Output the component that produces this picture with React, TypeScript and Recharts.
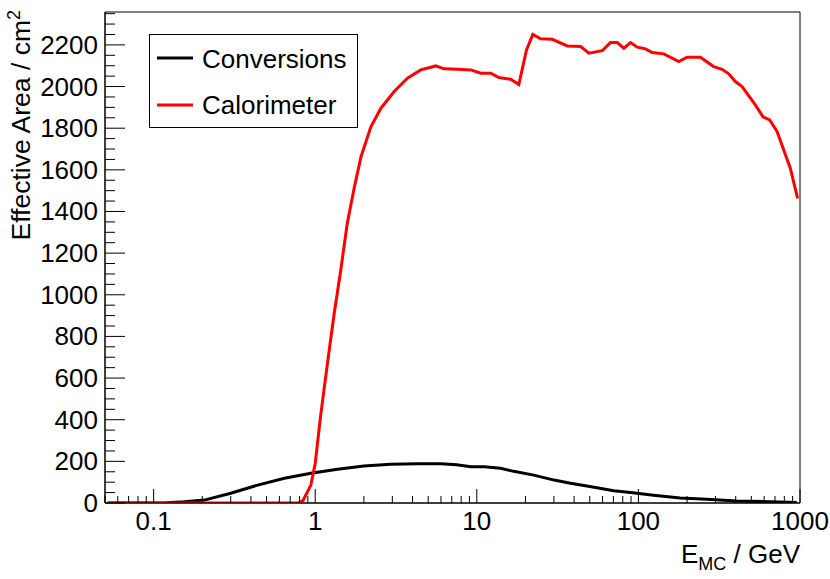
import React from "react";
import {
    LineChart,
    Line,
    XAxis,
    YAxis,
    Legend,
    ReferenceArea
} from "recharts";

const FONT = "'Liberation Sans', Arial, Helvetica, sans-serif";

/** Energy (GeV) and effective area (cm^2) */
const calorimeterEnergy = [
    0.052, 0.78, 0.84, 0.94, 1.0, 1.08, 1.19, 1.31, 1.44, 1.58, 1.75, 1.92,
    2.21, 2.55, 3.08, 3.72, 4.5, 5.57, 6.27, 7.58, 9.17, 10.57, 12.2, 13.7,
    16.2, 18.2, 20.3, 22.2, 24.8, 29.3, 36.3, 43.9, 49.4, 59.7, 67.2, 74,
    81.3, 89.4, 98.4, 110.7, 121.7, 143.6, 177.8, 200, 242, 292, 329, 362,
    398, 438, 529, 590, 649, 721, 871, 967
];
const calorimeterArea = [
    0, 0, 12, 86, 190, 420, 670, 910, 1120, 1345, 1520, 1663,
    1807, 1896, 1976, 2040, 2080, 2099, 2085, 2083, 2080, 2064, 2064, 2043,
    2035, 2010, 2176, 2250, 2229, 2227, 2195, 2192, 2160, 2172, 2211, 2211,
    2184, 2211, 2189, 2181, 2163, 2157, 2120, 2141, 2141, 2096, 2083, 2061,
    2024, 2000, 1912, 1855, 1840, 1784, 1608, 1463
];

const conversionsEnergy = [
    0.052, 0.12, 0.155, 0.206, 0.3, 0.44, 0.645, 0.94, 1.375, 2.0, 2.94, 4.3,
    6.0, 7.5, 9.17, 11.1, 14.0, 16.9, 22.5, 30.1, 38.0, 48.0, 70.5, 89.4,
    124, 181, 265, 405, 657, 955
];
const conversionsArea = [
    0, 1, 6, 14, 47, 86, 119, 143, 162, 178, 186, 188,
    189, 184, 174, 174, 167, 152, 134, 110, 95, 82, 59, 50,
    37, 24, 18, 10, 6, 2
];

const xMajorTicks = [0.1, 1, 10, 100, 1000];
const xTickLabels = ["0.1", "1", "10", "100", "1000"];
const yMajorTicks = [0, 200, 400, 600, 800, 1000, 1200, 1400, 1600, 1800, 2000, 2200];

const legendItems = [
    { name: "Conversions", color: "#000000" },
    { name: "Calorimeter", color: "#ff0000" }
];

const calorimeterData = calorimeterEnergy.map((e, i) => ({ e, a: calorimeterArea[i] }));
const conversionsData = conversionsEnergy.map((e, i) => ({ e, a: conversionsArea[i] }));

/** Log axis minor ticks: 2..9 of every decade inside the range */
const xAllTicks: number[] = [];
for (let k = -2; k <= 2; k++) {
    for (let m = 1; m <= 9; m++) {
        const v = Number((m * Math.pow(10, k)).toPrecision(3));
        if (v >= 0.05 && v <= 1000) xAllTicks.push(v);
    }
}
xAllTicks.push(1000);

const yAllTicks: number[] = [];
for (let v = 0; v <= 2350; v += 50) yAllTicks.push(v);

// plot frame in page pixels
const LEFT = 105;
const BOTTOM = 503;

const XTick = (props: any) => {
    const { x, payload } = props;
    const y = BOTTOM;
    const idx = xMajorTicks.findIndex(t => Math.abs(t - payload.value) < 1e-9);
    const major = idx >= 0;
    return (
        <g>
            <line x1={x} y1={y} x2={x} y2={y - (major ? 14 : 7)} stroke="#000" />
            {major && (
                <text x={x} y={y + 27} textAnchor="middle" fontSize={26} fontFamily={FONT} fill="#000">
                    {xTickLabels[idx]}
                </text>
            )}
        </g>
    );
};

const YTick = (props: any) => {
    const { y, payload } = props;
    const x = LEFT;
    const major = yMajorTicks.includes(payload.value);
    return (
        <g>
            <line x1={x} y1={y} x2={x + (major ? 20 : 10)} y2={y} stroke="#000" />
            {major && (
                <text x={x - 7} y={y + 9} textAnchor="end" fontSize={26} fontFamily={FONT} fill="#000">
                    {payload.value}
                </text>
            )}
        </g>
    );
};

const XTitle = () => (
    <text x={800} y={563} textAnchor="end" fontSize={26} fontFamily={FONT} fill="#000">
        E
        <tspan fontSize={18} dy={7}>MC</tspan>
        <tspan dy={-7}> / GeV</tspan>
    </text>
);

const YTitle = () => (
    <text
        transform="rotate(-90)"
        x={-10}
        y={30}
        textAnchor="end"
        fontSize={26.5}
        fontFamily={FONT}
        fill="#000"
    >
        Effective Area / cm
        <tspan fontSize={18} dy={-10}>2</tspan>
    </text>
);

const LegendBox = () => (
    <svg width={209} height={94} style={{ display: "block" }}>
        <rect x={0.5} y={0.5} width={208} height={93} fill="#fff" stroke="#000" />
        {legendItems.map((item, i) => (
            <g key={item.name}>
                <line x1={8} x2={44} y1={24 + i * 47} y2={24 + i * 47} stroke={item.color} strokeWidth={3} />
                <text x={53} y={34 + i * 46} fontSize={26} fontFamily={FONT} fill="#000">
                    {item.name}
                </text>
            </g>
        ))}
    </svg>
);

export default function App() {
    return (
        <div style={{ position: "absolute", left: 0, top: 0, background: "#fff" }}>
            <LineChart
                width={830}
                height={579}
                margin={{ top: 12, right: 30, left: 85, bottom: 46 }}
            >
                <ReferenceArea
                    x1={0.05}
                    x2={1000}
                    y1={0}
                    y2={2358}
                    fill="none"
                    stroke="#000"
                    strokeWidth={1}
                    ifOverflow="visible"
                />
                <XAxis
                    dataKey="e"
                    type="number"
                    scale="log"
                    domain={[0.05, 1000]}
                    allowDataOverflow
                    ticks={xAllTicks}
                    interval={0}
                    height={30}
                    tickSize={0}
                    tickMargin={0}
                    tickLine={false}
                    axisLine={{ stroke: "#000" }}
                    tick={(p: any) => <XTick {...p} />}
                    label={() => <XTitle />}
                />
                <YAxis
                    type="number"
                    domain={[0, 2358]}
                    allowDataOverflow
                    ticks={yAllTicks}
                    interval={0}
                    width={20}
                    tickSize={0}
                    tickMargin={0}
                    tickLine={false}
                    axisLine={{ stroke: "#000" }}
                    tick={(p: any) => <YTick {...p} />}
                    label={() => <YTitle />}
                />
                <Legend
                    layout="horizontal"
                    verticalAlign="middle"
                    align="center"
                    wrapperStyle={{ position: "absolute", left: 149, top: 34, width: 209, height: 94, margin: 0 }}
                    content={() => <LegendBox />}
                />
                <Line
                    data={conversionsData}
                    dataKey="a"
                    name="Conversions"
                    type="linear"
                    stroke="#000000"
                    strokeWidth={3}
                    dot={false}
                    isAnimationActive={false}
                />
                <Line
                    data={calorimeterData}
                    dataKey="a"
                    name="Calorimeter"
                    type="linear"
                    stroke="#ff0000"
                    strokeWidth={3}
                    dot={false}
                    isAnimationActive={false}
                />
            </LineChart>
        </div>
    );
}
